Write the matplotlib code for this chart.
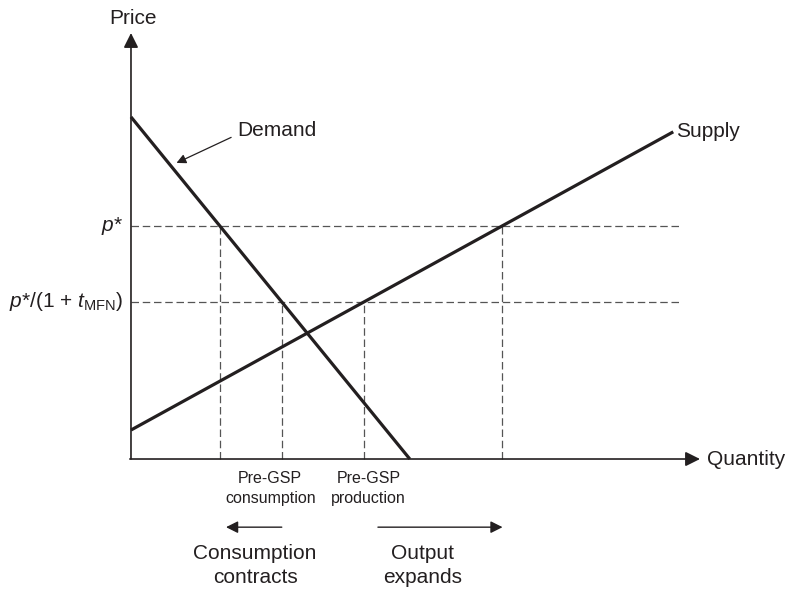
import numpy as np
import matplotlib.pyplot as plt

plt.rcParams['font.family'] = ['Liberation Sans', 'DejaVu Sans']
plt.rcParams['mathtext.fontset'] = 'custom'
plt.rcParams['mathtext.rm'] = 'Liberation Sans'
plt.rcParams['mathtext.it'] = 'Liberation Sans:italic'

# ------------------------------------------------------------
# Data (arbitrary units: quantity 0-100, price 0-100)
# ------------------------------------------------------------
demand_q = [0.0, 49.0]
demand_p = [80.3, 0.0]
supply_q = [0.0, 95.3]
supply_p = [6.8, 76.8]
price_levels = [54.7, 36.9]          # p*, p*/(1 + t_MFN)
price_labels = [r'$p$*', r'$p$*/(1 + $t_{\mathrm{MFN}}$)']
hline_end = 96.5

INK = '#231f20'
DASH = '#555555'

fig = plt.figure(figsize=(7.87, 5.9), dpi=100)
ax = fig.add_axes([0, 0, 1, 1])
ax.set_xlim(-23.02, 115.29)
ax.set_ylim(-30.75, 107.75)
ax.axis('off')


def demand_at(p):
    return np.interp(p, demand_p[::-1], demand_q[::-1])


def supply_at(p):
    return np.interp(p, supply_p, supply_q)


# dashed guide lines
for p in price_levels:
    ax.plot([0, hline_end], [p, p], color=DASH, lw=0.9, ls=(0, (6, 3)))
    for q in (demand_at(p), supply_at(p)):
        ax.plot([q, q], [0, p], color=DASH, lw=0.9, ls=(0, (6, 3)))

# curves
ax.plot(demand_q, demand_p, color=INK, lw=2.3, solid_capstyle='butt')
ax.plot(supply_q, supply_p, color=INK, lw=2.3, solid_capstyle='butt')

# axes with arrows
arr = dict(arrowstyle='-|>', color=INK, lw=1.2, mutation_scale=22, shrinkA=0, shrinkB=0)
ax.annotate('', xy=(0, 100), xytext=(0, 0), arrowprops=arr)
ax.annotate('', xy=(100, 0), xytext=(-0.2, 0), arrowprops=arr)
ax.text(0.3, 103.5, 'Price', fontsize=15, ha='center', va='center', color=INK)
ax.text(101.2, 0, 'Quantity', fontsize=15, ha='left', va='center', color=INK)

# price labels
for p, lab in zip(price_levels, price_labels):
    ax.text(-1.4, p, lab, fontsize=15, ha='right', va='center', color=INK)

# curve labels
ax.text(95.8, 76.8, 'Supply', fontsize=15, ha='left', va='center', color=INK)
ax.text(18.6, 77.0, 'Demand', fontsize=15, ha='left', va='center', color=INK)
ax.annotate('', xy=(8.0, 69.5), xytext=(17.6, 75.5),
            arrowprops=dict(arrowstyle='-|>', color=INK, lw=0.9, mutation_scale=14,
                            shrinkA=0, shrinkB=0))

# quantity labels
q_cons = demand_at(price_levels[1])
q_prod = supply_at(price_levels[1])
ax.text(q_cons - 2.0, -2.8, 'Pre-GSP\nconsumption', fontsize=11.5, ha='center', va='top',
        color=INK, linespacing=1.45)
ax.text(q_prod + 0.8, -2.8, 'Pre-GSP\nproduction', fontsize=11.5, ha='center', va='top',
        color=INK, linespacing=1.45)

# change arrows
small = dict(arrowstyle='-|>', color=INK, lw=1.0, mutation_scale=18, shrinkA=0, shrinkB=0)
ax.annotate('', xy=(16.7, -16.0), xytext=(26.5, -16.0), arrowprops=small)
ax.annotate('', xy=(65.3, -16.0), xytext=(43.4, -16.0), arrowprops=small)
ax.text(21.8, -19.9, 'Consumption\ncontracts', fontsize=15, ha='center', va='top',
        color=INK, linespacing=1.35)
ax.text(51.2, -19.9, 'Output\nexpands', fontsize=15, ha='center', va='top',
        color=INK, linespacing=1.35)

fig.savefig('out.png', dpi=100)
